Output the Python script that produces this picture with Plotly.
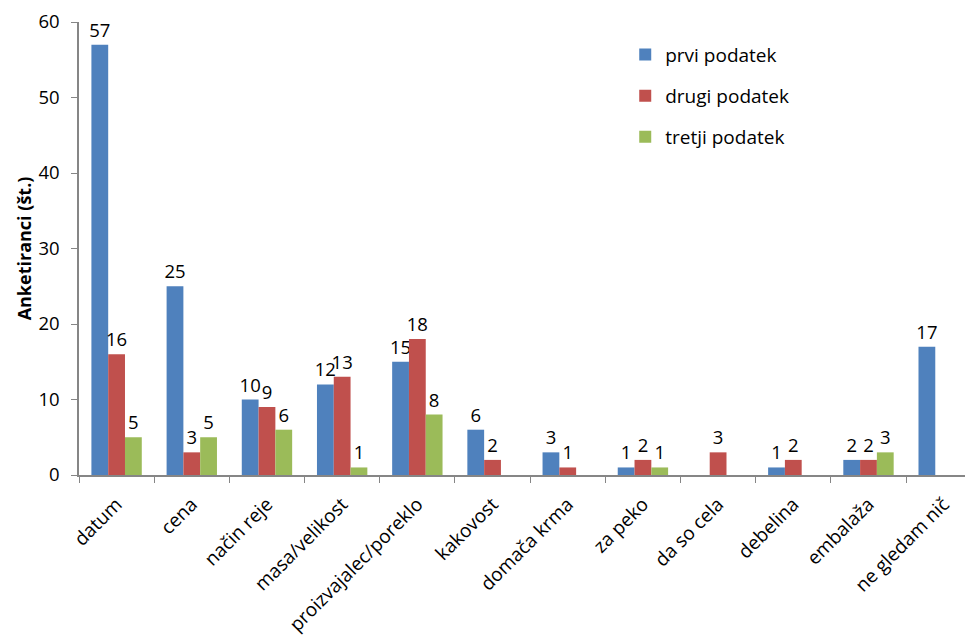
import plotly.graph_objects as go

categories = ["datum", "cena", "način reje", "masa/velikost", "proizvajalec/poreklo",
              "kakovost", "domača krma", "za peko", "da so cela", "debelina",
              "embalaža", "ne gledam nič"]
prvi = [57, 25, 10, 12, 15, 6, 3, 1, None, 1, 2, 17]
drugi = [16, 3, 9, 13, 18, 2, 1, 2, 3, 2, 2, None]
tretji = [5, 5, 6, 1, 8, None, None, 1, None, None, 3, None]

series = [
    ("prvi podatek", prvi, "#4F81BD"),
    ("drugi podatek", drugi, "#C0504D"),
    ("tretji podatek", tretji, "#9BBB59"),
]

FONT = "'Open Sans', sans-serif"

fig = go.Figure()
for name, vals, col in series:
    fig.add_trace(go.Bar(
        x=categories, y=vals, name=name,
        marker=dict(color=col, line=dict(width=0)),
        text=[("" if v is None else str(v)) for v in vals],
        textposition="outside", constraintext="none", cliponaxis=False,
        textfont=dict(size=18.5, color="black", family=FONT),
        legendgroup=name,
    ))

# page body has an 8px margin, so the figure is sized/offset to compensate
fig.update_layout(
    width=965, height=627,
    margin=dict(l=71, r=0, t=14, b=160),
    paper_bgcolor="white", plot_bgcolor="white",
    font=dict(family=FONT, size=16, color="black"),
    barmode="group", bargap=0.33, bargroupgap=0,
    showlegend=True,
    legend=dict(x=0.611, y=0.97, xanchor="left", yanchor="top",
                font=dict(size=19), tracegroupgap=13.5, bgcolor="rgba(0,0,0,0)"),
    xaxis=dict(range=[-0.5, 11.39], showline=True, linecolor="#868686", linewidth=1.5,
               ticks="outside", tickson="boundaries", ticklen=6, tickcolor="#868686",
               tickangle=-45, tickfont=dict(size=19), showgrid=False, automargin=False,
               ticklabelstandoff=9),
    yaxis=dict(range=[0, 60], dtick=10, showline=True, linecolor="#868686", linewidth=1.5,
               ticks="outside", ticklen=6, tickcolor="#868686", showgrid=False,
               zeroline=False, tickfont=dict(size=18.5), automargin=False,
               ticklabelstandoff=8,
               title=dict(text="<b>Anketiranci (št.)</b>", font=dict(size=18), standoff=2)),
)

fig.write_html("out.html")
